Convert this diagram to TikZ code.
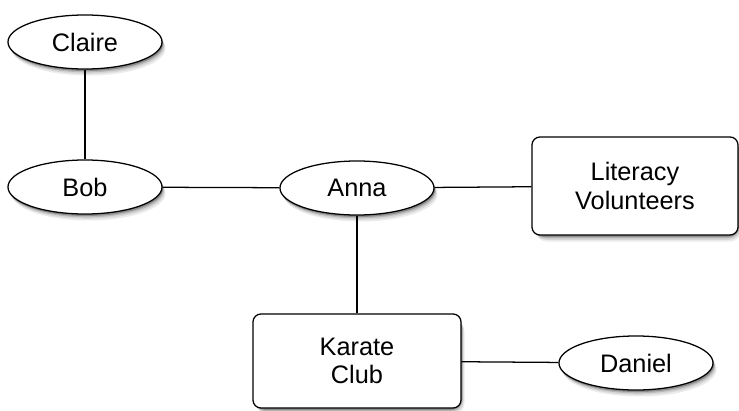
\documentclass[tikz,border=0pt]{standalone}
\usepackage{fontspec}
\setmainfont{Liberation Sans}
\usetikzlibrary{shapes.geometric}
\tikzset{
  person/.style={ellipse, draw, line width=0.9pt, fill=white, inner sep=0pt,
    minimum width=3.85cm, minimum height=1.35cm, font=\fontsize{18}{20.5}\selectfont},
  group/.style={rectangle, rounded corners=0.2cm, draw, line width=0.9pt, fill=white,
    align=center, font=\fontsize{18}{20.5}\selectfont},
  tie/.style={line width=0.9pt}
}
\begin{document}
\begin{tikzpicture}[x=0.025cm, y=0.025cm]
	%%%%% START %%%%%
	\useasboundingbox (0, 0) rectangle (739, 410);
	
	% soft shadows, lightest first
	\foreach \shadecol/\dx/\dy in {black!8/3.5/-6.5, black!16/2.6/-4.8, black!28/1.8/-3.3, black!45/1.1/-2} {
		\fill[\shadecol] (85+\dx, 368+\dy) ellipse [x radius=77, y radius=27];
		\fill[\shadecol] (85+\dx, 223+\dy) ellipse [x radius=77, y radius=27];
		\fill[\shadecol] (357+\dx, 222+\dy) ellipse [x radius=77, y radius=27];
		\fill[\shadecol] (636+\dx, 47+\dy) ellipse [x radius=77, y radius=27];
		\fill[\shadecol, rounded corners=8] (532+\dx, 175+\dy) rectangle (738+\dx, 273+\dy);
		\fill[\shadecol, rounded corners=8] (253+\dx, 2+\dy) rectangle (461+\dx, 96+\dy);
	}
	
	\node[person] (claire) at (85, 368) {Claire};
	\node[person] (bob) at (85, 223) {Bob};
	\node[person] (anna) at (357, 222) {Anna};
	\node[person] (daniel) at (636, 47) {Daniel};
	
	\node[group, minimum width=5.15cm, minimum height=2.45cm] (literacy) at (635, 224) {Literacy\\Volunteers};
	\node[group, minimum width=5.2cm, minimum height=2.35cm] (karate) at (357, 49) {Karate\\Club};
	
	\draw[tie] (claire) -- (bob);
	\draw[tie] (bob) -- (anna);
	\draw[tie] (anna) -- (literacy);
	\draw[tie] (anna) -- (karate);
	\draw[tie] (karate) -- (daniel);
	%%%%% END %%%%%
\end{tikzpicture}
\end{document}
